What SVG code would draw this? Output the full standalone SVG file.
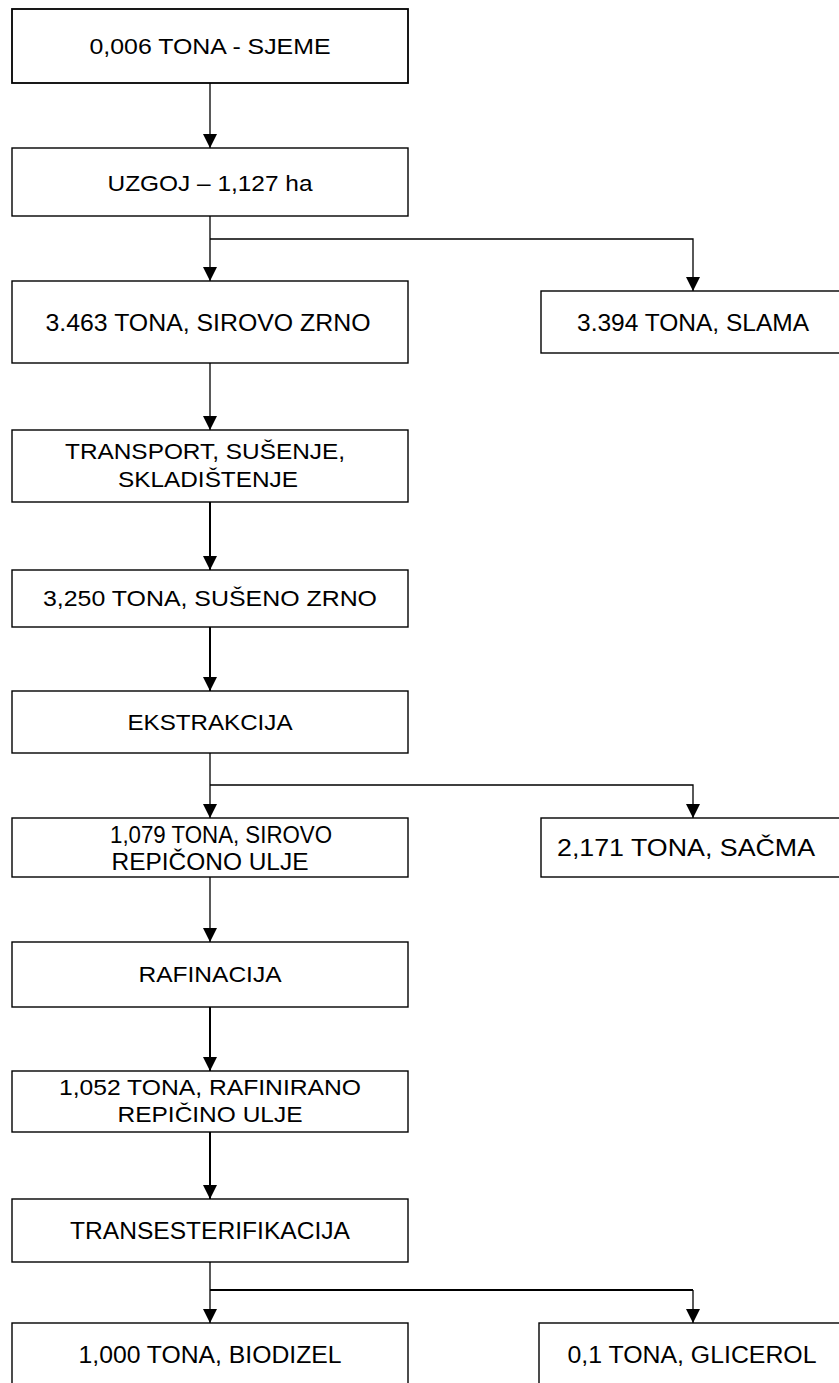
<svg xmlns="http://www.w3.org/2000/svg" width="839" height="1383" viewBox="0 0 839 1383">
<style>
.box{fill:#fff;stroke:#000;stroke-width:1.4}
.t{font-family:"Liberation Sans",Arial,sans-serif;font-size:22px;fill:#000;text-anchor:middle}
.n{font-size:23px}
.c{fill:none;stroke:#000;stroke-width:1.3}
.ct{fill:none;stroke:#000;stroke-width:2}
</style>
<defs>
<marker id="ah" markerUnits="userSpaceOnUse" markerWidth="16" markerHeight="16" refX="14" refY="7" orient="auto">
<path d="M0,0 L14,7 L0,14 Z" fill="#000"/>
</marker>
</defs>
<rect width="839" height="1383" fill="#fff"/>
<g id="connectors">
<path class="c" d="M210,83 V148" marker-end="url(#ah)"/>
<path class="c" d="M210,216 V281" marker-end="url(#ah)"/>
<path class="c" d="M210,239 H693 V291" marker-end="url(#ah)"/>
<path class="c" d="M210,363 V430" marker-end="url(#ah)"/>
<path class="ct" d="M210,502 V570" marker-end="url(#ah)"/>
<path class="ct" d="M210,627 V691" marker-end="url(#ah)"/>
<path class="c" d="M210,753 V818" marker-end="url(#ah)"/>
<path class="c" d="M210,785 H693 V818" marker-end="url(#ah)"/>
<path class="c" d="M210,877 V942" marker-end="url(#ah)"/>
<path class="ct" d="M210,1007 V1071" marker-end="url(#ah)"/>
<path class="ct" d="M210,1132 V1199" marker-end="url(#ah)"/>
<path class="c" d="M210,1262 V1323" marker-end="url(#ah)"/>
<path class="ct" d="M210,1290 H693"/>
<path class="c" d="M693,1290 V1323" marker-end="url(#ah)"/>
</g>
<g id="n1"><rect class="box" x="12" y="9" width="396" height="74" style="stroke-width:1.8"/><text class="t" x="210" y="54" textLength="241" lengthAdjust="spacingAndGlyphs">0,006 TONA - SJEME</text></g>
<g id="n2"><rect class="box" x="12" y="148" width="396" height="68"/><text class="t" x="210" y="191" textLength="205" lengthAdjust="spacingAndGlyphs">UZGOJ – 1,127 ha</text></g>
<g id="n3"><rect class="box" x="12" y="281" width="396" height="82"/><text class="t n" x="208" y="331" textLength="325" lengthAdjust="spacingAndGlyphs">3.463 TONA, SIROVO ZRNO</text></g>
<g id="n4"><rect class="box" x="541" y="291" width="310" height="62"/><text class="t n" x="693" y="331" textLength="232" lengthAdjust="spacingAndGlyphs">3.394 TONA, SLAMA</text></g>
<g id="n5"><rect class="box" x="12" y="430" width="396" height="72"/><text class="t" x="205" y="459" textLength="280" lengthAdjust="spacingAndGlyphs">TRANSPORT, SUŠENJE,</text><text class="t" x="208" y="487" textLength="180" lengthAdjust="spacingAndGlyphs">SKLADIŠTENJE</text></g>
<g id="n6"><rect class="box" x="12" y="570" width="396" height="57"/><text class="t" x="210" y="606" textLength="334" lengthAdjust="spacingAndGlyphs">3,250 TONA, SUŠENO ZRNO</text></g>
<g id="n7"><rect class="box" x="12" y="691" width="396" height="62"/><text class="t" x="210" y="730" textLength="165" lengthAdjust="spacingAndGlyphs">EKSTRAKCIJA</text></g>
<g id="n8"><rect class="box" x="12" y="818" width="396" height="59"/><text class="t n" x="221" y="843" textLength="222" lengthAdjust="spacingAndGlyphs">1,079 TONA, SIROVO</text><text class="t n" x="210" y="870" textLength="197" lengthAdjust="spacingAndGlyphs">REPIČONO ULJE</text></g>
<g id="n9"><rect class="box" x="541" y="818" width="310" height="59"/><text class="t n" x="686" y="856" textLength="258" lengthAdjust="spacingAndGlyphs">2,171 TONA, SAČMA</text></g>
<g id="n10"><rect class="box" x="12" y="942" width="396" height="65"/><text class="t" x="210" y="982" textLength="143" lengthAdjust="spacingAndGlyphs">RAFINACIJA</text></g>
<g id="n11"><rect class="box" x="12" y="1071" width="396" height="61"/><text class="t" x="210" y="1095" textLength="302" lengthAdjust="spacingAndGlyphs">1,052 TONA, RAFINIRANO</text><text class="t" x="210" y="1122" textLength="185" lengthAdjust="spacingAndGlyphs">REPIČINO ULJE</text></g>
<g id="n12"><rect class="box" x="12" y="1199" width="396" height="63"/><text class="t n" x="210" y="1239" textLength="280" lengthAdjust="spacingAndGlyphs">TRANSESTERIFIKACIJA</text></g>
<g id="n13"><rect class="box" x="12" y="1323" width="396" height="80"/><text class="t n" x="210" y="1363" textLength="263" lengthAdjust="spacingAndGlyphs">1,000 TONA, BIODIZEL</text></g>
<g id="n14"><rect class="box" x="539" y="1323" width="310" height="80"/><text class="t n" x="692" y="1363" textLength="249" lengthAdjust="spacingAndGlyphs">0,1 TONA, GLICEROL</text></g>
</svg>
